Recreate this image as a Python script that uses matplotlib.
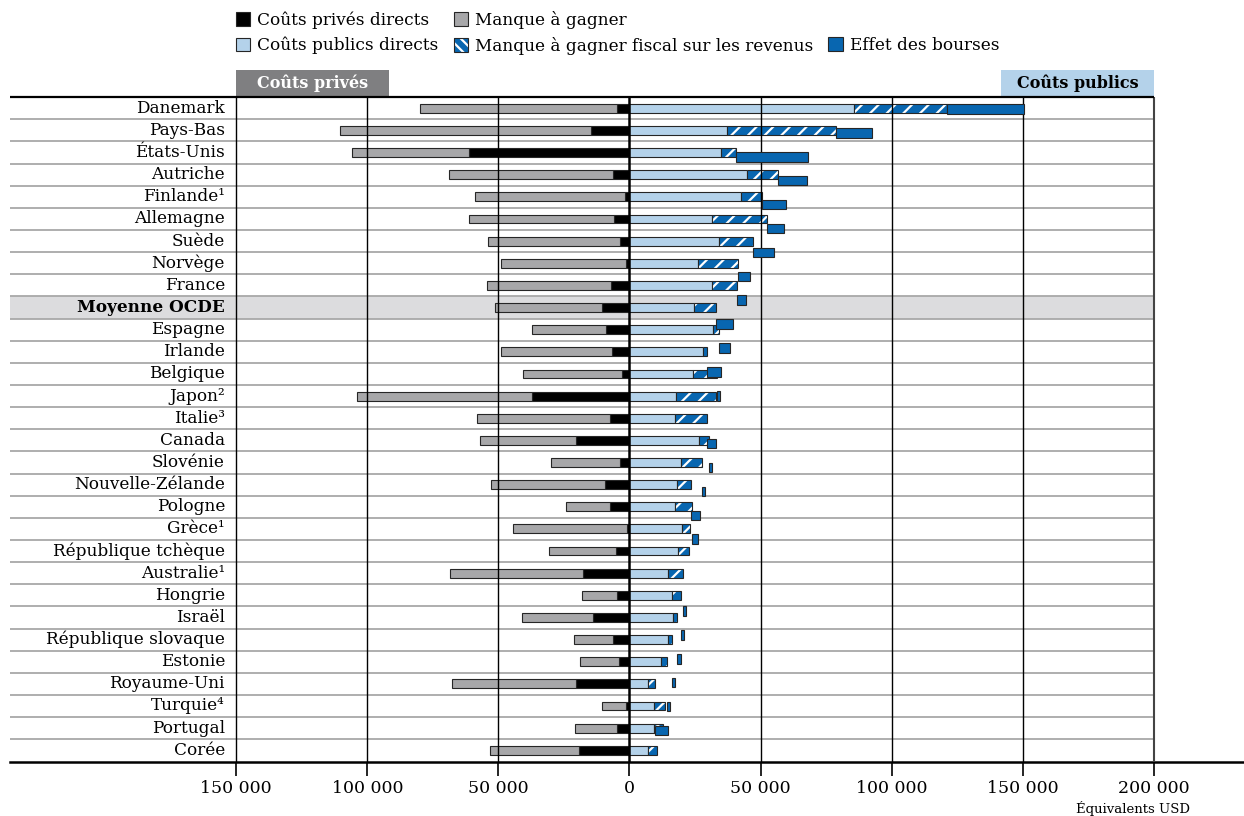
import matplotlib
matplotlib.use("Agg")
import matplotlib.pyplot as plt
import matplotlib.transforms as mtransforms
from matplotlib.patches import Rectangle, Patch
from matplotlib.legend_handler import HandlerTuple
import numpy as np

# ---------------- data (thousands of USD) ----------------
countries = ["Danemark", "Pays-Bas", "États-Unis", "Autriche", "Finlande¹", "Allemagne",
             "Suède", "Norvège", "France", "Moyenne OCDE", "Espagne", "Irlande", "Belgique",
             "Japon²", "Italie³", "Canada", "Slovénie", "Nouvelle-Zélande", "Pologne",
             "Grèce¹", "République tchèque", "Australie¹", "Hongrie", "Israël",
             "République slovaque", "Estonie", "Royaume-Uni", "Turquie⁴", "Portugal", "Corée"]

private_direct = [4.7, 14.7, 61.2, 6.3, 1.8, 5.9, 3.6, 1.3, 7.1, 10.6, 9.0, 6.6, 2.9, 37.2,
                  7.4, 20.5, 3.6, 9.5, 7.4, 0.8, 5.1, 17.6, 4.6, 14.0, 6.3, 4.0, 20.3, 1.2,
                  4.8, 19.3]
foregone_earnings = [75.2, 95.7, 44.7, 62.4, 57.0, 55.2, 50.3, 47.8, 47.1, 40.8, 28.1, 42.4,
                     37.6, 66.9, 50.7, 36.5, 26.2, 43.3, 16.9, 43.6, 25.7, 50.7, 13.4, 27.0,
                     14.9, 15.0, 47.5, 9.3, 16.1, 33.9]
public_direct = [85.8, 37.3, 34.8, 44.9, 42.4, 31.4, 34.3, 26.0, 31.6, 24.7, 31.7, 27.9, 24.3,
                 17.7, 17.4, 26.6, 19.6, 18.2, 17.5, 20.1, 18.6, 14.6, 16.3, 16.7, 14.6, 11.9,
                 6.9, 9.5, 9.5, 7.2]
tax_foregone = [35.4, 41.3, 5.9, 11.9, 8.3, 20.9, 12.9, 15.3, 9.5, 8.4, 2.6, 1.5, 9.2, 15.4,
                12.0, 3.8, 8.2, 5.4, 6.2, 3.1, 4.2, 5.7, 3.2, 1.5, 1.5, 2.5, 2.7, 4.0, 3.2, 3.4]
grants_effect = [29.4, 13.8, 27.4, 11.0, 8.9, 6.5, 7.9, 4.7, 3.2, 6.3, 4.0, 5.6, 1.2, 0.0,
                 3.5, 1.1, 1.1, 3.2, 2.4, 0.0, 0.0, 1.2, 1.2, 1.6, 1.3, 1.2, 5.2, 0.0, 0.0, 0.0]

xticks = [-150000, -100000, -50000, 0, 50000, 100000, 150000, 200000]
xtick_labels = ["150 000", "100 000", "50 000", "0", "50 000", "100 000", "150 000", "200 000"]

legend_labels = ["Coûts privés directs", "Coûts publics directs", "Manque à gagner",
                 "Manque à gagner fiscal sur les revenus", "Effet des bourses"]
header_private = "Coûts privés"
header_public = "Coûts publics"
x_unit_label = "Équivalents USD"
highlight = "Moyenne OCDE"

# ---------------- style ----------------
BLACK = "#000000"
GREY = "#a7a7a9"
LIGHT = "#b4d2ea"
DARK = "#0866b0"
EDGE = "#262626"
HEAD_GREY = "#7f7f81"
BAND = "#dcdcde"
SEP = "#a8a8a8"

plt.rcParams["font.family"] = ["DejaVu Serif"]
plt.rcParams["hatch.linewidth"] = 1.6
plt.rcParams["hatch.color"] = "white"

W, H = 1244, 816
fig = plt.figure(figsize=(W / 100, H / 100), dpi=100)
ax = fig.add_axes([10 / W, (H - 762) / H, (1244 - 10) / W, (762 - 97) / H])

XL, XR = -236300, 234400
ax.set_xlim(XL, XR)
n = len(countries)
y = np.arange(n)
ax.set_ylim(n - 0.47, -0.51)

k = 1000.0
pdv = np.array(private_direct) * k
fgv = np.array(foregone_earnings) * k
pub = np.array(public_direct) * k
tax = np.array(tax_foregone) * k
gr = np.array(grants_effect) * k

BH = 0.4
lw = 0.8

# background band for OECD average + separators
hi = countries.index(highlight)
ax.add_patch(Rectangle((XL, hi - 0.5), 200000 - XL, 1.0, facecolor=BAND, edgecolor="none",
                       zorder=0))
ax.hlines(y[:-1] + 0.5, XL, 200000, color=SEP, lw=1.3, zorder=0.5)
ax.hlines(-0.51, XL, 200000, color="black", lw=1.6, zorder=5, clip_on=False)

# private costs (left)
ax.barh(y, -pdv, height=BH, color=BLACK, edgecolor=EDGE, lw=lw, zorder=2)
ax.barh(y, -fgv, left=-pdv, height=BH, color=GREY, edgecolor=EDGE, lw=lw, zorder=2)
# public costs (right)
ax.barh(y, pub, height=BH, color=LIGHT, edgecolor=EDGE, lw=lw, zorder=2)
ax.barh(y, tax, left=pub, height=BH, color=DARK, hatch="//", lw=0, zorder=2)
ax.barh(y, tax, left=pub, height=BH, fill=False, edgecolor=EDGE, lw=lw, zorder=2.1)

# vertical grid
for v in xticks[:-1]:
    ax.axvline(v, color="black", lw=1.8 if v == 0 else 1.0, zorder=3)
ax.axvline(200000, color="#444444", lw=1.5, zorder=3)

# grants effect: plotted on a secondary axis (as in the source chart)
ax2 = ax.twinx()
ax2.set_ylim(27.32, -0.502)
m = gr > 0
ax2.barh(y[m], gr[m], left=(pub + tax)[m], height=BH, color=DARK, edgecolor=EDGE, lw=lw,
         zorder=4)
ax2.set_yticks([])
for s in ax2.spines.values():
    s.set_visible(False)

# axes styling
for name, s in ax.spines.items():
    s.set_visible(name == "bottom")
ax.spines["bottom"].set_linewidth(1.8)
ax.set_yticks([])
ax.set_xticks(xticks, xtick_labels)
ax.tick_params(axis="x", length=10, width=1.2, pad=3, labelsize=12.5, colors="black")

# country labels
for i, c in enumerate(countries):
    ax.text(-154300, i, c, ha="right", va="center", fontsize=12.2,
            fontweight="bold" if c == highlight else "normal", zorder=6)

# header boxes
trans = mtransforms.blended_transform_factory(ax.transData, ax.transAxes)
hb0, hb1 = 1.0015, 1.0406
ax.add_patch(Rectangle((-150000, hb0), 58300, hb1 - hb0, transform=trans,
                       facecolor=HEAD_GREY, edgecolor="none", clip_on=False))
ax.text(-150000 + 58300 / 2, (hb0 + hb1) / 2, header_private, transform=trans,
        ha="center", va="center", color="white", fontsize=11.5, fontweight="bold")
ax.add_patch(Rectangle((141700, hb0), 58300, hb1 - hb0, transform=trans,
                       facecolor=LIGHT, edgecolor="none", clip_on=False))
ax.text(141700 + 58300 / 2, (hb0 + hb1) / 2, header_public, transform=trans,
        ha="center", va="center", color="black", fontsize=11.5, fontweight="bold")

# legend
h_black = Patch(facecolor=BLACK, edgecolor=EDGE, lw=lw)
h_light = Patch(facecolor=LIGHT, edgecolor=EDGE, lw=lw)
h_grey = Patch(facecolor=GREY, edgecolor=EDGE, lw=lw)
h_hatch = (Patch(facecolor=DARK, hatch="\\\\\\", lw=0), Patch(fill=False, edgecolor=EDGE, lw=lw))
h_dark = Patch(facecolor=DARK, edgecolor=EDGE, lw=lw)
h_blank = Patch(visible=False)
handles = [h_black, h_light, h_grey, h_hatch, h_blank, h_dark]
labels = [legend_labels[0], legend_labels[1], legend_labels[2], legend_labels[3], "",
          legend_labels[4]]
fig.legend(handles, labels, loc="upper left", bbox_to_anchor=(236 / W, 1 - 11 / H),
           ncol=3, frameon=False, fontsize=12.2, handlelength=0.85, handleheight=0.85,
           handletextpad=0.4, columnspacing=0.9, labelspacing=0.47, borderpad=0,
           borderaxespad=0, handler_map={tuple: HandlerTuple(ndivide=1)})

fig.text(1190 / W, 1 - 809 / H, x_unit_label, ha="right", va="center", fontsize=9.5)

fig.savefig("out.png", dpi=100)
